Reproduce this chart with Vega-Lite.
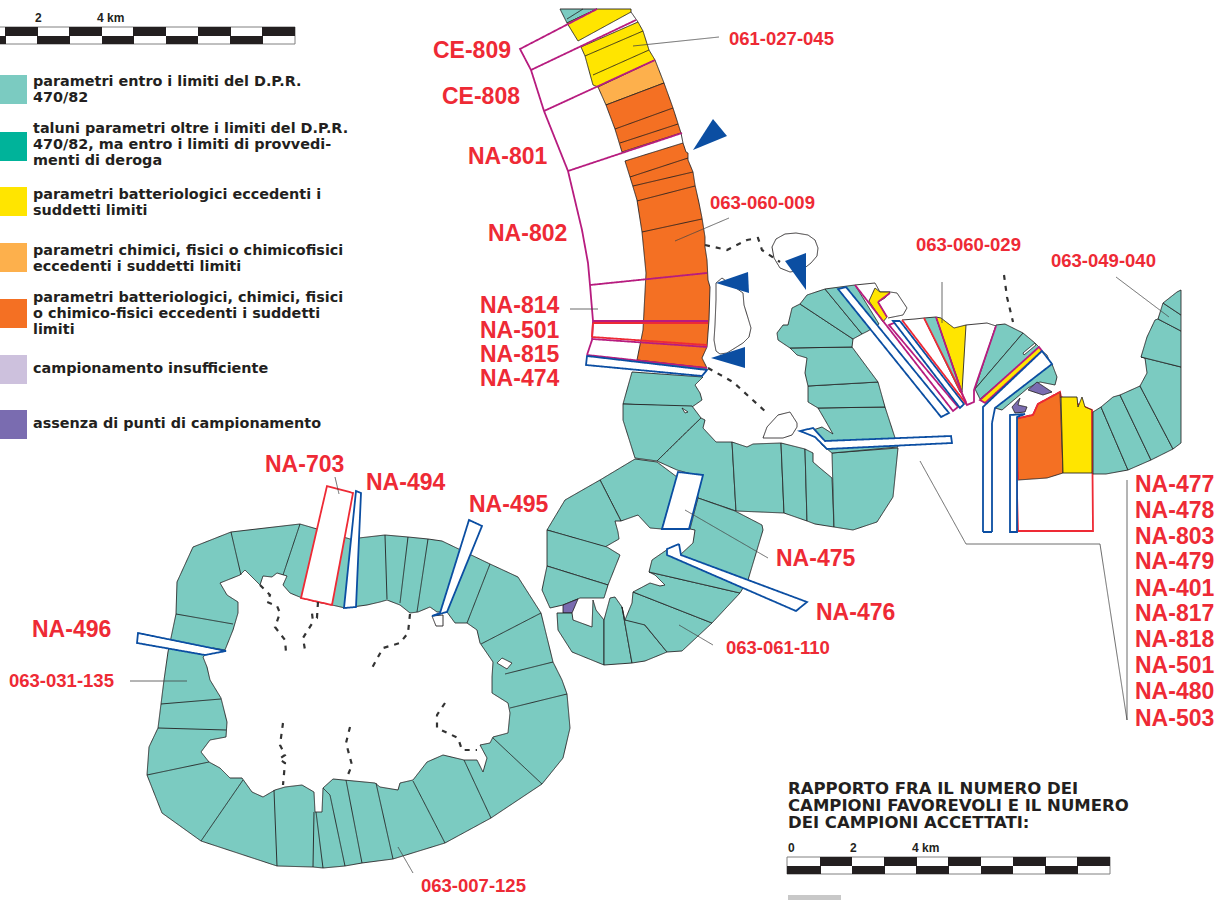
{"$schema":"https://vega.github.io/schema/vega-lite/v6.json","width":1226,"height":900,"padding":0,"autosize":"none","background":"white","projection":{"type":"identity","scale":1,"translate":[0,0]},
"layer":[
{"data":{"values":[
{"type":"Feature","properties":{"f":"white","s":"frame"},"geometry":{"type":"Polygon","coordinates":[[[-2,27],[295,27],[295,44],[-2,44],[-2,27]]]}},
{"type":"Feature","properties":{"f":"black","s":"none"},"geometry":{"type":"MultiPolygon","coordinates":[[[[5,27],[38,27],[38,36],[5,36],[5,27]]],[[[69,27],[102,27],[102,36],[69,36],[69,27]]],[[[133,27],[166,27],[166,36],[133,36],[133,27]]],[[[198,27],[231,27],[231,36],[198,36],[198,27]]],[[[262,27],[295,27],[295,36],[262,36],[262,27]]],[[[-2,36],[6,36],[6,44],[-2,44],[-2,36]]],[[[37,36],[70,36],[70,44],[37,44],[37,36]]],[[[102,36],[134,36],[134,44],[102,44],[102,36]]],[[[166,36],[198,36],[198,44],[166,44],[166,36]]],[[[230,36],[263,36],[263,44],[230,44],[230,36]]]]}},
{"type":"Feature","properties":{"f":"white","s":"frame"},"geometry":{"type":"Polygon","coordinates":[[[787,857],[1110,857],[1110,874],[787,874],[787,857]]]}},
{"type":"Feature","properties":{"f":"black","s":"none"},"geometry":{"type":"MultiPolygon","coordinates":[[[[820,857],[852,857],[852,866],[820,866],[820,857]]],[[[884,857],[917,857],[917,866],[884,866],[884,857]]],[[[948,857],[981,857],[981,866],[948,866],[948,857]]],[[[1013,857],[1046,857],[1046,866],[1013,866],[1013,857]]],[[[1077,857],[1110,857],[1110,866],[1077,866],[1077,857]]],[[[787,866],[821,866],[821,874],[787,874],[787,866]]],[[[852,866],[885,866],[885,874],[852,874],[852,866]]],[[[916,866],[949,866],[949,874],[916,874],[916,866]]],[[[981,866],[1013,866],[1013,874],[981,874],[981,866]]],[[[1045,866],[1078,866],[1078,874],[1045,874],[1045,866]]]]}},
{"type":"Feature","properties":{"f":"grey","s":"none"},"geometry":{"type":"Polygon","coordinates":[[[788,895],[841,895],[841,901],[788,901],[788,895]]]}},
{"type":"Feature","properties":{"f":"teal","s":"none"},"geometry":{"type":"Polygon","coordinates":[[[0,75],[27,75],[27,104],[0,104],[0,75]]]}},
{"type":"Feature","properties":{"f":"deroga","s":"none"},"geometry":{"type":"Polygon","coordinates":[[[0,132],[27,132],[27,161],[0,161],[0,132]]]}},
{"type":"Feature","properties":{"f":"yellow","s":"none"},"geometry":{"type":"Polygon","coordinates":[[[0,187],[27,187],[27,216],[0,216],[0,187]]]}},
{"type":"Feature","properties":{"f":"lightorange","s":"none"},"geometry":{"type":"Polygon","coordinates":[[[0,243],[27,243],[27,272],[0,272],[0,243]]]}},
{"type":"Feature","properties":{"f":"orange","s":"none"},"geometry":{"type":"Polygon","coordinates":[[[0,299],[27,299],[27,328],[0,328],[0,299]]]}},
{"type":"Feature","properties":{"f":"lilac","s":"none"},"geometry":{"type":"Polygon","coordinates":[[[0,355],[27,355],[27,384],[0,384],[0,355]]]}},
{"type":"Feature","properties":{"f":"purple","s":"none"},"geometry":{"type":"Polygon","coordinates":[[[0,410],[27,410],[27,439],[0,439],[0,410]]]}},

{"type":"Feature","properties":{"f":"teal","s":"coast"},"geometry":{"type":"Polygon","coordinates":[[[560,9],[597,9],[567,23],[560,9]]]}},
{"type":"Feature","properties":{"f":"none","s":"coast"},"geometry":{"type":"LineString","coordinates":[[567,19],[583,9]]}},
{"type":"Feature","properties":{"f":"yellow","s":"coast"},"geometry":{"type":"Polygon","coordinates":[[[567,23],[597,9],[631,9],[631,12],[578,41],[567,23]]]}},
{"type":"Feature","properties":{"f":"yellow","s":"coast"},"geometry":{"type":"Polygon","coordinates":[[[581,47],[638,22],[643,31],[649,50],[655,60],[598,87],[593,85],[585,56],[581,47]]]}},
{"type":"Feature","properties":{"f":"none","s":"coast"},"geometry":{"type":"LineString","coordinates":[[585,56],[643,31]]}},
{"type":"Feature","properties":{"f":"none","s":"coast"},"geometry":{"type":"LineString","coordinates":[[593,75],[649,50]]}},
{"type":"Feature","properties":{"f":"lightorange","s":"coast"},"geometry":{"type":"Polygon","coordinates":[[[598,87],[655,60],[664,83],[606,105],[598,87]]]}},
{"type":"Feature","properties":{"f":"orange","s":"coast"},"geometry":{"type":"Polygon","coordinates":[[[606,105],[664,83],[673,108],[681,133],[622,152],[615,129],[606,105]]]}},
{"type":"Feature","properties":{"f":"none","s":"coast"},"geometry":{"type":"LineString","coordinates":[[615,129],[673,108]]}},
{"type":"Feature","properties":{"f":"none","s":"coast"},"geometry":{"type":"LineString","coordinates":[[620,143],[678,124]]}},
{"type":"Feature","properties":{"f":"none","s":"coast"},"geometry":{"type":"LineString","coordinates":[[631,12],[638,22]]}},
{"type":"Feature","properties":{"f":"none","s":"coast"},"geometry":{"type":"LineString","coordinates":[[681,133],[683,143]]}},
{"type":"Feature","properties":{"f":"orange","s":"coast"},"geometry":{"type":"Polygon","coordinates":[[[625,161],[683,143],[686,152],[688,153],[688,160],[693,172],[695,185],[699,203],[702,218],[705,237],[705,247],[707,260],[708,280],[710,287],[709,320],[708,333],[707,347],[702,358],[707,368],[637,360],[643,330],[646,273],[642,232],[637,200],[630,177],[625,161]]]}},
{"type":"Feature","properties":{"f":"none","s":"coast"},"geometry":{"type":"LineString","coordinates":[[630,177],[688,158]]}},
{"type":"Feature","properties":{"f":"none","s":"coast"},"geometry":{"type":"LineString","coordinates":[[633,186],[693,172]]}},
{"type":"Feature","properties":{"f":"none","s":"coast"},"geometry":{"type":"LineString","coordinates":[[637,201],[695,186]]}},
{"type":"Feature","properties":{"f":"none","s":"coast"},"geometry":{"type":"LineString","coordinates":[[642,232],[702,219]]}},

{"type":"Feature","properties":{"f":"teal","s":"coast"},"geometry":{"type":"Polygon","coordinates":[[[632,372],[703,377],[695,385],[700,393],[702,400],[692,407],[623,404],[632,372]]]}},
{"type":"Feature","properties":{"f":"teal","s":"coast"},"geometry":{"type":"Polygon","coordinates":[[[623,404],[692,406],[701,418],[657,461],[635,458],[623,420],[623,404]]]}},
{"type":"Feature","properties":{"f":"teal","s":"coast"},"geometry":{"type":"Polygon","coordinates":[[[657,461],[701,418],[705,420],[703,428],[716,442],[732,442],[736,511],[698,498],[695,475],[677,470],[657,461]]]}},
{"type":"Feature","properties":{"f":"teal","s":"coast"},"geometry":{"type":"Polygon","coordinates":[[[732,442],[747,447],[753,444],[781,443],[784,513],[736,511],[732,442]]]}},
{"type":"Feature","properties":{"f":"teal","s":"coast"},"geometry":{"type":"Polygon","coordinates":[[[781,443],[805,449],[807,521],[784,513],[781,443]]]}},
{"type":"Feature","properties":{"f":"teal","s":"coast"},"geometry":{"type":"Polygon","coordinates":[[[805,449],[813,453],[813,462],[820,468],[832,478],[834,527],[815,524],[807,521],[805,449]]]}},
{"type":"Feature","properties":{"f":"teal","s":"coast"},"geometry":{"type":"Polygon","coordinates":[[[832,453],[898,448],[893,497],[877,522],[853,530],[834,527],[832,453]]]}},
{"type":"Feature","properties":{"f":"teal","s":"coast"},"geometry":{"type":"Polygon","coordinates":[[[818,408],[885,407],[898,447],[832,453],[822,445],[813,430],[822,427],[833,434],[825,420],[818,408]]]}},
{"type":"Feature","properties":{"f":"teal","s":"coast"},"geometry":{"type":"Polygon","coordinates":[[[808,386],[878,382],[885,407],[818,408],[808,402],[808,386]]]}},
{"type":"Feature","properties":{"f":"teal","s":"coast"},"geometry":{"type":"Polygon","coordinates":[[[790,348],[852,347],[878,382],[808,386],[805,373],[807,358],[797,355],[792,350],[790,348]]]}},
{"type":"Feature","properties":{"f":"teal","s":"coast"},"geometry":{"type":"Polygon","coordinates":[[[777,333],[783,325],[788,325],[792,308],[800,304],[853,339],[852,347],[790,348],[778,340],[777,333]]]}},
{"type":"Feature","properties":{"f":"teal","s":"coast"},"geometry":{"type":"Polygon","coordinates":[[[800,304],[807,295],[825,289],[862,334],[853,339],[800,304]]]}},
{"type":"Feature","properties":{"f":"teal","s":"coast"},"geometry":{"type":"Polygon","coordinates":[[[825,289],[855,285],[879,324],[868,331],[862,334],[825,289]]]}},
{"type":"Feature","properties":{"f":"white","s":"coast"},"geometry":{"type":"Polygon","coordinates":[[[682,408],[688,412],[685,413],[682,408]]]}},
{"type":"Feature","properties":{"f":"white","s":"coast"},"geometry":{"type":"Polygon","coordinates":[[[772,247],[776,239],[785,234],[796,233],[808,235],[815,240],[818,248],[817,256],[811,263],[802,270],[790,272],[780,268],[774,258],[772,247]]]}},
{"type":"Feature","properties":{"f":"white","s":"coast"},"geometry":{"type":"Polygon","coordinates":[[[716,283],[722,278],[743,293],[744,305],[748,318],[751,328],[749,337],[743,343],[735,348],[727,353],[720,354],[716,351],[714,340],[715,325],[716,300],[716,283]]]}},
{"type":"Feature","properties":{"f":"white","s":"coast"},"geometry":{"type":"Polygon","coordinates":[[[763,438],[767,427],[778,415],[790,412],[797,423],[797,427],[792,435],[783,438],[763,438]]]}},
{"type":"Feature","properties":{"f":"none","s":"coast"},"geometry":{"type":"LineString","coordinates":[[855,285],[875,283],[880,292],[890,292],[897,293],[907,308],[903,315],[888,318]]}},
{"type":"Feature","properties":{"f":"yellow","s":"coast"},"geometry":{"type":"Polygon","coordinates":[[[869,301],[875,288],[880,292],[890,292],[885,298],[878,302],[887,317],[883,322],[869,301]]]}},
{"type":"Feature","properties":{"f":"none","s":"coast"},"geometry":{"type":"LineString","coordinates":[[902,320],[915,319],[924,318]]}},
{"type":"Feature","properties":{"f":"teal","s":"coast"},"geometry":{"type":"Polygon","coordinates":[[[924,318],[936,317],[962,394],[960,392],[924,318]]]}},
{"type":"Feature","properties":{"f":"yellow","s":"coast"},"geometry":{"type":"Polygon","coordinates":[[[936,317],[941,318],[954,328],[966,325],[962,392],[936,317]]]}},
{"type":"Feature","properties":{"f":"none","s":"coast"},"geometry":{"type":"LineString","coordinates":[[966,325],[987,323],[996,326]]}},
{"type":"Feature","properties":{"f":"teal","s":"coast"},"geometry":{"type":"Polygon","coordinates":[[[996,325],[1005,324],[1023,333],[975,389],[996,325]]]}},
{"type":"Feature","properties":{"f":"teal","s":"coast"},"geometry":{"type":"Polygon","coordinates":[[[1023,333],[1035,343],[1040,348],[980,399],[975,389],[1023,333]]]}},
{"type":"Feature","properties":{"f":"white","s":"coast"},"geometry":{"type":"Polygon","coordinates":[[[1023,353],[1035,343],[1036,345],[1024,355],[1023,353]]]}},
{"type":"Feature","properties":{"f":"white","s":"coast"},"geometry":{"type":"Polygon","coordinates":[[[1040,367],[1050,361],[1051,363],[1041,369],[1040,367]]]}},
{"type":"Feature","properties":{"f":"none","s":"coast"},"geometry":{"type":"LineString","coordinates":[[1042,351],[1047,355],[1049,360],[1052,364]]}},
{"type":"Feature","properties":{"f":"teal","s":"coast"},"geometry":{"type":"Polygon","coordinates":[[[1052,364],[1057,377],[1055,385],[1040,382],[1028,388],[1002,410],[995,408],[1052,364]]]}},
{"type":"Feature","properties":{"f":"purple","s":"coast"},"geometry":{"type":"Polygon","coordinates":[[[1037,382],[1052,392],[1043,395],[1028,390],[1037,382]]]}},
{"type":"Feature","properties":{"f":"purple","s":"coast"},"geometry":{"type":"Polygon","coordinates":[[[1012,407],[1020,398],[1018,405],[1027,407],[1025,412],[1015,413],[1012,407]]]}},
{"type":"Feature","properties":{"f":"white","s":"red"},"geometry":{"type":"Polygon","coordinates":[[[1015,419],[1033,415],[1038,404],[1060,392],[1061,397],[1092,410],[1093,531],[1018,531],[1015,419]]]}},
{"type":"Feature","properties":{"f":"orange","s":"coast"},"geometry":{"type":"Polygon","coordinates":[[[1015,419],[1033,415],[1038,404],[1060,392],[1063,473],[1047,478],[1018,480],[1015,419]]]}},
{"type":"Feature","properties":{"f":"yellow","s":"coast"},"geometry":{"type":"Polygon","coordinates":[[[1061,397],[1077,397],[1078,407],[1082,397],[1085,407],[1092,410],[1092,473],[1063,473],[1061,397]]]}},
{"type":"Feature","properties":{"f":"none","s":"red"},"geometry":{"type":"LineString","coordinates":[[1015,419],[1033,415],[1038,404],[1060,392]]}},
{"type":"Feature","properties":{"f":"none","s":"red"},"geometry":{"type":"LineString","coordinates":[[1092,410],[1093,474]]}},
{"type":"Feature","properties":{"f":"none","s":"red"},"geometry":{"type":"LineString","coordinates":[[1016,419],[1018,480]]}},
{"type":"Feature","properties":{"f":"teal","s":"coast"},"geometry":{"type":"Polygon","coordinates":[[[1093,412],[1101,407],[1128,470],[1106,474],[1093,474],[1093,412]]]}},
{"type":"Feature","properties":{"f":"teal","s":"coast"},"geometry":{"type":"Polygon","coordinates":[[[1101,407],[1113,397],[1120,395],[1151,460],[1128,470],[1101,407]]]}},
{"type":"Feature","properties":{"f":"teal","s":"coast"},"geometry":{"type":"Polygon","coordinates":[[[1120,395],[1140,386],[1173,449],[1151,460],[1120,395]]]}},
{"type":"Feature","properties":{"f":"teal","s":"coast"},"geometry":{"type":"Polygon","coordinates":[[[1140,386],[1147,373],[1145,358],[1141,357],[1181,367],[1181,443],[1173,449],[1140,386]]]}},
{"type":"Feature","properties":{"f":"teal","s":"coast"},"geometry":{"type":"Polygon","coordinates":[[[1141,357],[1147,337],[1155,320],[1158,319],[1181,331],[1181,367],[1141,357]]]}},
{"type":"Feature","properties":{"f":"teal","s":"coast"},"geometry":{"type":"Polygon","coordinates":[[[1158,319],[1163,303],[1181,315],[1181,331],[1158,319]]]}},
{"type":"Feature","properties":{"f":"teal","s":"coast"},"geometry":{"type":"Polygon","coordinates":[[[1163,303],[1177,292],[1181,290],[1181,315],[1163,303]]]}},

{"type":"Feature","properties":{"f":"white","s":"blue"},"geometry":{"type":"Polygon","coordinates":[[[838,289],[846,287],[949,413],[941,417],[838,289]]]}},
{"type":"Feature","properties":{"f":"none","s":"magenta"},"geometry":{"type":"LineString","coordinates":[[855,285],[953,411],[958,407],[889,325],[894,323]]}},
{"type":"Feature","properties":{"f":"none","s":"magenta"},"geometry":{"type":"LineString","coordinates":[[890,293],[878,302],[887,317]]}},
{"type":"Feature","properties":{"f":"white","s":"blue"},"geometry":{"type":"Polygon","coordinates":[[[893,321],[900,321],[964,404],[960,408],[893,321]]]}},
{"type":"Feature","properties":{"f":"none","s":"red"},"geometry":{"type":"LineString","coordinates":[[902,320],[967,405]]}},
{"type":"Feature","properties":{"f":"none","s":"red"},"geometry":{"type":"LineString","coordinates":[[924,318],[966,402]]}},
{"type":"Feature","properties":{"f":"none","s":"magenta"},"geometry":{"type":"LineString","coordinates":[[936,317],[963,396],[967,405],[974,402],[974,390],[996,326]]}},
{"type":"Feature","properties":{"f":"yellow","s":"magenta"},"geometry":{"type":"Polygon","coordinates":[[[1039,347],[1042,351],[985,403],[980,400],[1039,347]]]}},
{"type":"Feature","properties":{"f":"white","s":"blue"},"geometry":{"type":"Polygon","coordinates":[[[983,407],[983,532],[992,532],[992,423],[995,408],[1052,364],[1042,351],[983,407]]]}},
{"type":"Feature","properties":{"f":"white","s":"blue"},"geometry":{"type":"Polygon","coordinates":[[[1010,415],[1025,414],[1017,417],[1017,532],[1010,532],[1010,415]]]}},
{"type":"Feature","properties":{"f":"white","s":"blue"},"geometry":{"type":"Polygon","coordinates":[[[813,428],[825,441],[951,436],[952,443],[827,449],[815,437],[800,431],[813,428]]]}},

{"type":"Feature","properties":{"f":"deroga","s":"none"},"geometry":{"type":"Polygon","coordinates":[[[637,360],[707,368],[704,370],[635,363],[637,360]]]}},
{"type":"Feature","properties":{"f":"none","s":"magenta"},"geometry":{"type":"LineString","coordinates":[[597,9],[520,49],[531,70],[544,111],[568,171],[582,230],[588,263],[590,285],[593,321],[592,340],[587,355]]}},
{"type":"Feature","properties":{"f":"none","s":"magenta"},"geometry":{"type":"LineString","coordinates":[[531,70],[636,20]]}},
{"type":"Feature","properties":{"f":"none","s":"magenta"},"geometry":{"type":"LineString","coordinates":[[544,111],[655,60]]}},
{"type":"Feature","properties":{"f":"none","s":"magenta"},"geometry":{"type":"LineString","coordinates":[[568,171],[682,133]]}},
{"type":"Feature","properties":{"f":"none","s":"magenta"},"geometry":{"type":"LineString","coordinates":[[590,285],[707,273]]}},
{"type":"Feature","properties":{"f":"none","s":"red"},"geometry":{"type":"LineString","coordinates":[[593,323],[708,323]]}},
{"type":"Feature","properties":{"f":"none","s":"red"},"geometry":{"type":"LineString","coordinates":[[592,337],[707,345]]}},
{"type":"Feature","properties":{"f":"none","s":"red"},"geometry":{"type":"LineString","coordinates":[[593,323],[592,337]]}},
{"type":"Feature","properties":{"f":"none","s":"magenta"},"geometry":{"type":"LineString","coordinates":[[593,321],[708,321]]}},
{"type":"Feature","properties":{"f":"none","s":"magenta"},"geometry":{"type":"LineString","coordinates":[[592,339],[707,347]]}},
{"type":"Feature","properties":{"f":"none","s":"magenta"},"geometry":{"type":"LineString","coordinates":[[587,355],[707,368]]}},
{"type":"Feature","properties":{"f":"white","s":"blue"},"geometry":{"type":"Polygon","coordinates":[[[587,356],[586,365],[702,376],[707,370],[587,356]]]}},

{"type":"Feature","properties":{"f":"teal","s":"coast"},"geometry":{"type":"Polygon","coordinates":[[[635,459],[657,462],[677,477],[662,529],[650,528],[638,515],[621,521],[600,480],[635,459]]]}},
{"type":"Feature","properties":{"f":"teal","s":"coast"},"geometry":{"type":"Polygon","coordinates":[[[600,480],[621,521],[615,521],[618,532],[619,539],[605,547],[547,530],[565,500],[600,480]]]}},
{"type":"Feature","properties":{"f":"teal","s":"coast"},"geometry":{"type":"Polygon","coordinates":[[[547,530],[607,547],[620,555],[608,585],[547,566],[547,530]]]}},
{"type":"Feature","properties":{"f":"teal","s":"coast"},"geometry":{"type":"Polygon","coordinates":[[[547,566],[608,585],[604,598],[580,598],[563,605],[550,608],[542,590],[547,566]]]}},
{"type":"Feature","properties":{"f":"purple","s":"coast"},"geometry":{"type":"Polygon","coordinates":[[[563,605],[578,599],[572,613],[563,613],[563,605]]]}},
{"type":"Feature","properties":{"f":"teal","s":"coast"},"geometry":{"type":"Polygon","coordinates":[[[557,613],[572,613],[573,620],[592,627],[593,600],[596,610],[604,620],[604,665],[572,652],[558,630],[557,613]]]}},
{"type":"Feature","properties":{"f":"teal","s":"coast"},"geometry":{"type":"Polygon","coordinates":[[[604,620],[610,598],[615,597],[622,607],[632,663],[604,665],[604,620]]]}},
{"type":"Feature","properties":{"f":"teal","s":"coast"},"geometry":{"type":"Polygon","coordinates":[[[622,607],[625,620],[643,623],[667,652],[645,661],[632,663],[622,607]]]}},
{"type":"Feature","properties":{"f":"teal","s":"coast"},"geometry":{"type":"Polygon","coordinates":[[[633,592],[712,623],[682,651],[667,652],[645,625],[625,620],[632,603],[633,592]]]}},
{"type":"Feature","properties":{"f":"teal","s":"coast"},"geometry":{"type":"Polygon","coordinates":[[[649,572],[740,593],[712,623],[633,592],[650,583],[660,586],[665,585],[655,575],[649,572]]]}},
{"type":"Feature","properties":{"f":"teal","s":"coast"},"geometry":{"type":"Polygon","coordinates":[[[649,572],[652,560],[668,549],[680,555],[693,543],[695,530],[690,529],[698,498],[735,511],[762,525],[763,530],[748,580],[740,593],[649,572]]]}},
{"type":"Feature","properties":{"f":"white","s":"blue"},"geometry":{"type":"Polygon","coordinates":[[[678,472],[703,475],[689,529],[662,529],[678,472]]]}},
{"type":"Feature","properties":{"f":"white","s":"blue"},"geometry":{"type":"Polygon","coordinates":[[[667,549],[679,544],[681,555],[807,602],[796,611],[667,555],[667,549]]]}},

{"type":"Feature","properties":{"f":"teal","s":"coast"},"geometry":{"type":"Polygon","coordinates":[[[193,547],[231,532],[300,524],[317,529],[350,539],[385,535],[408,537],[428,539],[442,541],[490,564],[518,577],[541,613],[553,662],[562,680],[567,694],[570,728],[563,758],[542,784],[491,818],[445,843],[393,859],[362,863],[345,866],[323,868],[313,867],[277,866],[201,841],[162,813],[147,775],[149,747],[158,728],[161,704],[164,680],[168,652],[176,614],[177,582],[193,547]]]}},
{"type":"Feature","properties":{"f":"white","s":"coast"},"geometry":{"type":"Polygon","coordinates":[[[220,583],[240,575],[245,570],[248,573],[260,585],[263,576],[272,577],[277,573],[287,576],[283,585],[290,593],[302,598],[317,602],[332,605],[345,608],[367,605],[380,602],[387,600],[400,605],[410,613],[418,612],[430,607],[437,612],[447,612],[455,623],[467,623],[477,630],[480,643],[493,662],[492,677],[492,693],[508,703],[510,713],[508,733],[493,737],[490,743],[480,745],[487,758],[483,772],[477,760],[464,760],[443,755],[427,762],[413,780],[400,783],[398,790],[380,787],[375,783],[333,779],[323,788],[322,812],[315,812],[314,792],[302,785],[285,787],[275,790],[263,797],[252,792],[242,778],[230,778],[220,768],[209,762],[201,752],[210,740],[226,737],[227,722],[221,698],[210,680],[207,667],[203,657],[213,648],[225,650],[233,630],[238,613],[238,602],[227,595],[220,583]]]}},
{"type":"Feature","properties":{"f":"none","s":"coast"},"geometry":{"type":"MultiLineString","coordinates":[[[231,532],[241,575]],[[300,524],[283,575]],[[385,535],[387,599]],[[408,537],[400,603]],[[428,539],[417,612]],[[490,564],[467,623]],[[541,613],[481,644]],[[553,662],[505,674]],[[567,694],[510,708]],[[542,784],[493,738]],[[491,818],[464,760]],[[445,843],[413,781]],[[393,859],[376,783]],[[362,863],[346,780]],[[345,866],[330,795],[323,788]],[[323,868],[316,812]],[[313,867],[314,812]],[[277,866],[274,790]],[[201,841],[243,780]],[[147,775],[209,762]],[[158,728],[226,730]],[[161,704],[221,699]],[[176,614],[233,624]]]}},
{"type":"Feature","properties":{"f":"white","s":"coast"},"geometry":{"type":"Polygon","coordinates":[[[502,658],[512,663],[507,669],[497,663],[502,658]]]}},
{"type":"Feature","properties":{"f":"white","s":"coast"},"geometry":{"type":"Polygon","coordinates":[[[432,616],[443,615],[443,626],[436,626],[432,616]]]}},
{"type":"Feature","properties":{"f":"white","s":"red"},"geometry":{"type":"Polygon","coordinates":[[[327,486],[353,493],[332,605],[301,598],[327,486]]]}},
{"type":"Feature","properties":{"f":"white","s":"blue"},"geometry":{"type":"Polygon","coordinates":[[[356,491],[361,493],[356,607],[344,608],[356,491]]]}},
{"type":"Feature","properties":{"f":"white","s":"blue"},"geometry":{"type":"Polygon","coordinates":[[[469,520],[482,526],[447,612],[432,616],[440,613],[469,520]]]}},
{"type":"Feature","properties":{"f":"white","s":"blue"},"geometry":{"type":"Polygon","coordinates":[[[138,633],[226,651],[205,655],[137,643],[138,633]]]}},

{"type":"Feature","properties":{"f":"none","s":"dash"},"geometry":{"type":"MultiLineString","coordinates":[[[260,585],[270,595],[267,602],[277,606],[280,613],[275,627],[285,640],[286,652]],[[318,602],[317,617],[312,613],[313,622],[303,638],[305,650]],[[410,614],[408,633],[400,643],[383,648],[372,668]],[[283,723],[280,745],[285,755],[279,759],[285,763],[283,785]],[[350,727],[346,743],[352,765],[347,777]],[[445,703],[437,715],[437,728],[458,738],[462,750],[477,750]],[[705,245],[727,250],[747,240],[758,238],[762,250],[780,262]],[[708,368],[733,382],[767,413]],[[1004,275],[1007,297],[1013,322]]]}},
{"type":"Feature","properties":{"f":"blue","s":"none"},"geometry":{"type":"Polygon","coordinates":[[[713,119],[727,136],[693,150],[713,119]]]}},
{"type":"Feature","properties":{"f":"blue","s":"none"},"geometry":{"type":"Polygon","coordinates":[[[716,283],[748,272],[749,293],[716,283]]]}},
{"type":"Feature","properties":{"f":"blue","s":"none"},"geometry":{"type":"Polygon","coordinates":[[[711,358],[745,347],[745,368],[711,358]]]}},
{"type":"Feature","properties":{"f":"blue","s":"none"},"geometry":{"type":"Polygon","coordinates":[[[785,261],[806,253],[806,290],[785,261]]]}},
{"type":"Feature","properties":{"f":"none","s":"leader"},"geometry":{"type":"MultiLineString","coordinates":[[[633,46],[719,37]],[[675,241],[729,218]],[[570,309],[598,309]],[[685,510],[768,558]],[[335,477],[339,494]],[[679,625],[713,645]],[[398,847],[413,873]],[[942,282],[942,323]],[[1116,277],[1169,317]],[[920,461],[966,544],[1100,544],[1127,720]],[[1127,480],[1127,720]],[[130,681],[187,681]]]}}
]},
"mark":{"type":"geoshape"},
"encoding":{
"fill":{"field":"properties.f","type":"nominal","legend":null,"scale":{"domain":["teal","deroga","yellow","lightorange","orange","lilac","purple","white","black","blue","grey","none"],"range":["#7bcbc1","#00b39a","#ffe500","#fdb04c","#f47023","#cdc1dd","#7a6cb0","#ffffff","#231f20","#0b4ea2","#c8c8c8","transparent"]}},
"stroke":{"field":"properties.s","type":"nominal","legend":null,"scale":{"domain":["coast","magenta","red","blue","dash","leader","frame","none"],"range":["#231f20","#b71c7f","#ee2a35","#0b4ea2","#333333","#444444","#808080","transparent"]}},
"strokeWidth":{"field":"properties.s","type":"nominal","legend":null,"scale":{"type":"ordinal","domain":["coast","magenta","red","blue","dash","leader","frame","none"],"range":[0.9,1.8,1.8,1.8,2.2,0.8,1,0]}},
"strokeDash":{"field":"properties.s","type":"nominal","legend":null,"scale":{"domain":["coast","magenta","red","blue","dash","leader","frame","none"],"range":[[1,0],[1,0],[1,0],[1,0],[5,6],[1,0],[1,0],[1,0]]}}
}},
{"data":{"values":[
{"t":"CE-809","x":433,"y":58},{"t":"CE-808","x":442,"y":104},{"t":"NA-801","x":468,"y":164},{"t":"NA-802","x":488,"y":241},{"t":"NA-814","x":480,"y":313},{"t":"NA-501","x":480,"y":338},{"t":"NA-815","x":480,"y":362},{"t":"NA-474","x":480,"y":386},{"t":"NA-703","x":265,"y":472},{"t":"NA-494","x":366,"y":490},{"t":"NA-495","x":469,"y":512},{"t":"NA-496","x":32,"y":637},{"t":"NA-475","x":776,"y":566},{"t":"NA-476","x":816,"y":620},
{"t":"NA-477","x":1135,"y":492},{"t":"NA-478","x":1135,"y":518},{"t":"NA-803","x":1135,"y":544},{"t":"NA-479","x":1135,"y":569},{"t":"NA-401","x":1135,"y":596},{"t":"NA-817","x":1135,"y":621},{"t":"NA-818","x":1135,"y":647},{"t":"NA-501","x":1135,"y":673},{"t":"NA-480","x":1135,"y":699},{"t":"NA-503","x":1135,"y":726}]},
"mark":{"type":"text","align":"left","baseline":"alphabetic","font":"Liberation Sans","fontWeight":"bold","fontSize":23,"fill":"#ee2a35"},
"encoding":{"longitude":{"field":"x","type":"quantitative"},"latitude":{"field":"y","type":"quantitative"},"text":{"field":"t"}}},
{"data":{"values":[
{"t":"061-027-045","x":729,"y":45},{"t":"063-060-009","x":710,"y":209},{"t":"063-060-029","x":916,"y":251},{"t":"063-049-040","x":1051,"y":267},{"t":"063-061-110","x":726,"y":654},{"t":"063-031-135","x":9,"y":687},{"t":"063-007-125","x":421,"y":892}]},
"mark":{"type":"text","align":"left","baseline":"alphabetic","font":"Liberation Sans","fontWeight":"bold","fontSize":18.5,"fill":"#ee2a35"},
"encoding":{"longitude":{"field":"x","type":"quantitative"},"latitude":{"field":"y","type":"quantitative"},"text":{"field":"t"}}},
{"data":{"values":[
{"t":"parametri entro i limiti del D.P.R.","x":33,"y":86},{"t":"470/82","x":33,"y":102},{"t":"taluni parametri oltre i limiti del D.P.R.","x":33,"y":133},{"t":"470/82, ma entro i limiti di provvedi-","x":33,"y":149},{"t":"menti di deroga","x":33,"y":165},{"t":"parametri batteriologici eccedenti  i","x":33,"y":199},{"t":"suddetti limiti","x":33,"y":215},{"t":"parametri chimici, fisici o chimicofisici","x":33,"y":255},{"t":"eccedenti i suddetti limiti","x":33,"y":271},{"t":"parametri batteriologici, chimici, fisici","x":33,"y":302},{"t":"o chimico-fisici eccedenti i suddetti","x":33,"y":318},{"t":"limiti","x":33,"y":334},{"t":"campionamento insufficiente","x":33,"y":373},{"t":"assenza di punti di campionamento","x":33,"y":428}]},
"mark":{"type":"text","align":"left","baseline":"alphabetic","font":"DejaVu Sans","fontWeight":"bold","fontSize":14.4,"fill":"#231f20"},
"encoding":{"longitude":{"field":"x","type":"quantitative"},"latitude":{"field":"y","type":"quantitative"},"text":{"field":"t"}}},
{"data":{"values":[{"t":"2","x":35,"y":22},{"t":"4 km","x":97,"y":22},{"t":"0","x":788,"y":852},{"t":"2","x":850,"y":852},{"t":"4 km","x":912,"y":852}]},
"mark":{"type":"text","align":"left","baseline":"alphabetic","font":"Liberation Sans","fontWeight":"bold","fontSize":12,"fill":"#231f20"},
"encoding":{"longitude":{"field":"x","type":"quantitative"},"latitude":{"field":"y","type":"quantitative"},"text":{"field":"t"}}},
{"data":{"values":[{"t":"RAPPORTO FRA IL NUMERO DEI","x":788,"y":794},{"t":"CAMPIONI FAVOREVOLI E IL NUMERO","x":788,"y":811},{"t":"DEI CAMPIONI ACCETTATI:","x":788,"y":828}]},
"mark":{"type":"text","align":"left","baseline":"alphabetic","font":"DejaVu Sans","fontWeight":"bold","fontSize":16.5,"fill":"#231f20"},
"encoding":{"longitude":{"field":"x","type":"quantitative"},"latitude":{"field":"y","type":"quantitative"},"text":{"field":"t"}}}
]}
